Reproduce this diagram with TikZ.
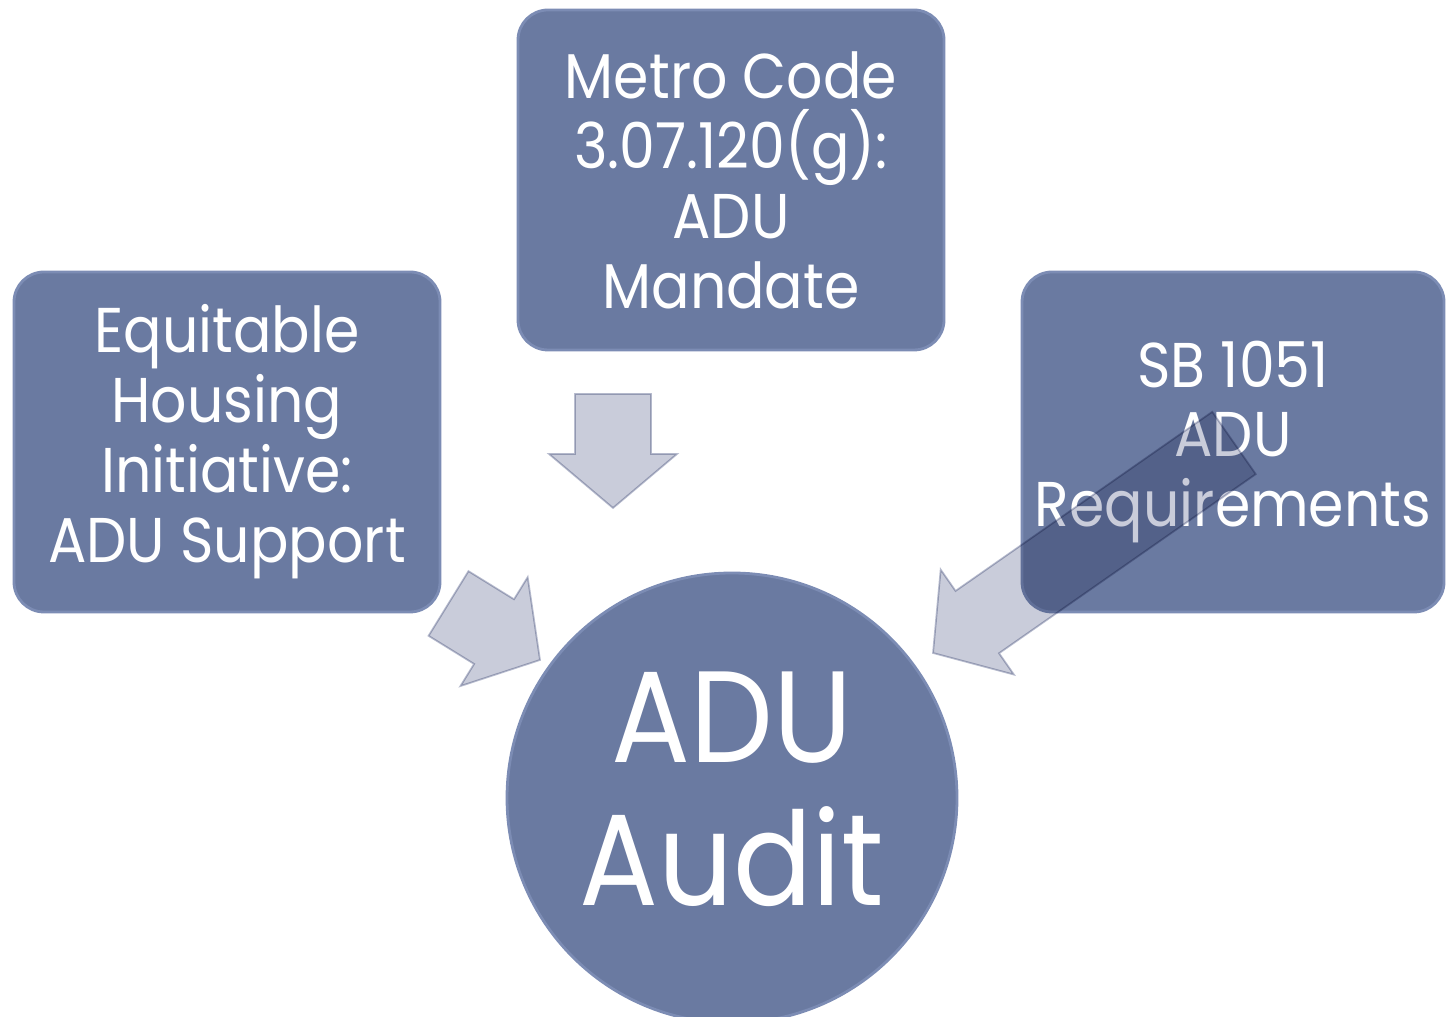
\documentclass[tikz,border=0pt]{standalone}
\usepackage{fontspec}
\setmainfont{Poppins}[FakeStretch=0.9]
\usetikzlibrary{calc}
\definecolor{slate}{RGB}{106,122,161}
\definecolor{slateedge}{RGB}{124,140,180}
\definecolor{arrowgrey}{RGB}{201,204,218}
\definecolor{arrowedge}{RGB}{186,190,208}
\tikzset{
	every block/.style={
		rectangle,
		rounded corners=0.3cm,
		fill=slate,
		draw=slateedge,
		line width=0.8pt,
		text=white,
		align=center,
		inner xsep=0pt,
		minimum width=4.26cm,
		minimum height=3.4cm,
		font=\fontsize{18}{19.9}\selectfont },
	audit circle/.style={
		circle,
		fill=slate,
		draw=slateedge,
		line width=0.8pt,
		text=white,
		align=center,
		inner sep=0pt,
		text depth=0.18cm,
		minimum size=4.5cm,
		font=\fontsize{37}{40.7}\selectfont },
	block arrow/.style={
		fill=arrowgrey,
		draw=arrowedge,
		line width=0.5pt,
		blend mode=multiply },
}
% fat arrow from #1 to #2
\newcommand{\shafthalf}{0.38cm}
\newcommand{\headhalf}{0.64cm}
\newcommand{\headlen}{0.54cm}
\newcommand{\blockarrow}[2]{%
	\coordinate (#1-base) at ($(#2)!\headlen!(#1)$);
	\draw [block arrow] ($(#1)!\shafthalf!90:(#2)$)
		-- ($(#1-base)!\shafthalf!90:(#2)$)
		-- ($(#1-base)!\headhalf!90:(#2)$)
		-- (#2)
		-- ($(#1-base)!\headhalf!-90:(#2)$)
		-- ($(#1-base)!\shafthalf!-90:(#2)$)
		-- ($(#1)!\shafthalf!-90:(#2)$) -- cycle;
}

\begin{document}
\begin{tikzpicture}

	\useasboundingbox (0,0) rectangle (14.47,10.17);

	\node [every block/.try] (equity) at (2.27,5.75) {Equitable\\Housing\\Initiative:\\ADU Support};
	\node [every block/.try] (metro) at (7.31,8.37) {Metro Code\\3.07.120(g):\\ADU\\Mandate};
	\node [every block/.try, minimum width=4.22cm] (sb) at (12.33,5.75) {SB 1051\\ADU\\Requirements};

	\node [audit circle] (audit) at (7.32,2.19) {ADU\\Audit};

	\coordinate (metro-tail) at (6.13,6.23);
	\coordinate (metro-tip) at (6.13,5.09);
	\coordinate (equity-tail) at (4.485,4.135);
	\coordinate (equity-tip) at (5.40,3.57);
	\coordinate (sb-tail) at (12.34,5.74);
	\coordinate (sb-tip) at (9.33,3.64);

	\foreach \a in {metro,equity,sb}
	\blockarrow{\a-tail}{\a-tip};

\end{tikzpicture}
\end{document}
